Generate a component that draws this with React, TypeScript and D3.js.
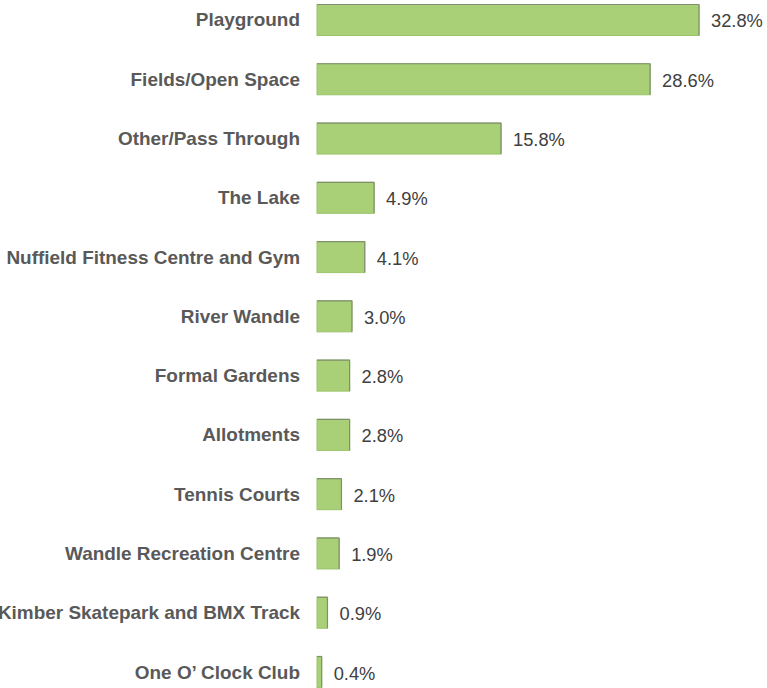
import React from "react";
import * as d3 from "d3";

const categories = [
  "Playground",
  "Fields/Open Space",
  "Other/Pass Through",
  "The Lake",
  "Nuffield Fitness Centre and Gym",
  "River Wandle",
  "Formal Gardens",
  "Allotments",
  "Tennis Courts",
  "Wandle Recreation Centre",
  "Kimber Skatepark and BMX Track",
  "One O\u2019 Clock Club",
];
const values = [32.8, 28.6, 15.8, 4.9, 4.1, 3.0, 2.8, 2.8, 2.1, 1.9, 0.9, 0.4];

const W = 767;
const H = 688;

export default function App() {
  const x0 = 317;
  const x = d3.scaleLinear().domain([0, 32.8]).range([x0, 699]);
  const y = d3
    .scaleBand<string>()
    .domain(categories)
    .range([4.5, 687.5])
    .paddingInner(0.477)
    .paddingOuter(0);
  const bw = y.bandwidth();
  return (
    <div style={{ position: "absolute", left: 0, top: 0 }}>
      <svg width={W} height={H} style={{ display: "block" }}>
        <rect width={W} height={H} fill="#ffffff" />
        {categories.map((c, i) => {
          const yy = y(c)!;
          const xe = x(values[i]);
          const w = xe - x0;
          return (
            <g key={c}>
              <rect x={x0} y={yy} width={w} height={bw} fill="#a9d076" stroke="#9cc46c" strokeWidth={1} />
              <line x1={x0} x2={xe} y1={yy} y2={yy} stroke="#7f8f6c" strokeWidth={1.2} />
              <line x1={xe} x2={xe} y1={yy} y2={yy + bw} stroke="#7f8f6c" strokeWidth={1.2} />
              <text
                x={300}
                y={yy + bw / 2}
                textAnchor="end"
                dominantBaseline="central"
                fontFamily="Liberation Sans, Arial, sans-serif"
                fontWeight="bold"
                fontSize={18.95}
                fill="#595959"
              >
                {c}
              </text>
              <text
                x={xe + 12}
                y={yy + bw / 2 + 1}
                textAnchor="start"
                dominantBaseline="central"
                fontFamily="Liberation Sans, Arial, sans-serif"
                fontSize={18.3}
                fill="#404040"
              >
                {values[i].toFixed(1) + "%"}
              </text>
            </g>
          );
        })}
      </svg>
    </div>
  );
}
